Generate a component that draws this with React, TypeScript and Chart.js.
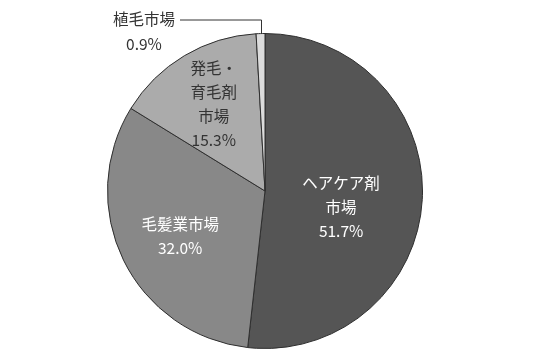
import React, { useEffect, useRef } from "react";
import { Chart, registerables } from "chart.js";

Chart.register(...registerables);

const categories = ["ヘアケア剤市場", "毛髪業市場", "発毛・育毛剤市場", "植毛市場"];
const labelLines = [["ヘアケア剤", "市場"], ["毛髪業市場"], ["発毛・", "育毛剤", "市場"], ["植毛市場"]];
const shares = [51.7, 32.0, 15.3, 0.9];
const sliceColors = ["#555555", "#888888", "#ababab", "#dcdcdc"];
const textColors = ["#ffffff", "#ffffff", "#333333", "#333333"];
// label placement: radius fraction and angle shift (radians)
const labelRadius = [0.494, 0.61, 0.64, 0];
const labelAngleShift = [0.156, -0.034, 0.005, 0];

const FONT = "'Noto Sans CJK JP', 'Noto Sans', sans-serif";

const labelPlugin = {
  id: "sliceLabels",
  afterDatasetsDraw(chart: any) {
    const ctx = chart.ctx;
    const meta = chart.getDatasetMeta(0);
    ctx.save();
    ctx.font = `15.5px ${FONT}`;
    ctx.textAlign = "center";
    ctx.textBaseline = "middle";
    const lh = 24;
    meta.data.forEach((arc: any, i: number) => {
      const { x, y, startAngle, endAngle, outerRadius } = arc.getProps(
        ["x", "y", "startAngle", "endAngle", "outerRadius"],
        true
      );
      const mid = (startAngle + endAngle) / 2;
      const lines = [...labelLines[i], shares[i].toFixed(1) + "%"];
      if (i === 3) {
        // outside label with leader line
        const ex = x + Math.cos(mid) * outerRadius;
        const ey = y + Math.sin(mid) * outerRadius;
        const ly = y - outerRadius - 14;
        const tx = x - 121;
        ctx.strokeStyle = "#333333";
        ctx.lineWidth = 1;
        ctx.beginPath();
        ctx.moveTo(tx + 36, ly + 0.5);
        ctx.lineTo(Math.round(ex) + 0.5, ly + 0.5);
        ctx.lineTo(Math.round(ex) + 0.5, ey);
        ctx.stroke();
        ctx.fillStyle = textColors[i];
        lines.forEach((t, k) => ctx.fillText(t, tx, ly + k * lh + k * 1));
        return;
      }
      const a = mid + labelAngleShift[i];
      const r = outerRadius * labelRadius[i];
      const cx = x + Math.cos(a) * r;
      const cy = y + Math.sin(a) * r;
      ctx.fillStyle = textColors[i];
      const top = cy - ((lines.length - 1) * lh) / 2;
      lines.forEach((t, k) => ctx.fillText(t, cx, top + k * lh));
    });
    ctx.restore();
  },
};

export default function App() {
  const ref = useRef<HTMLCanvasElement>(null);
  useEffect(() => {
    document.body.style.margin = "0";
    const chart = new Chart(ref.current!, {
      type: "pie",
      data: {
        labels: categories,
        datasets: [
          {
            data: shares,
            backgroundColor: sliceColors,
            borderColor: "#2e2e2e",
            borderWidth: 1,
          },
        ],
      },
      options: {
        responsive: false,
        animation: false,
        layout: { padding: { top: 33, bottom: 14, left: 100, right: 120 } },
        plugins: { legend: { display: false }, tooltip: { enabled: false } },
      },
      plugins: [labelPlugin],
    });
    return () => chart.destroy();
  }, []);
  return (
    <div style={{ width: 550, height: 363, background: "#fff" }}>
      <canvas ref={ref} width={550} height={363} />
    </div>
  );
}
